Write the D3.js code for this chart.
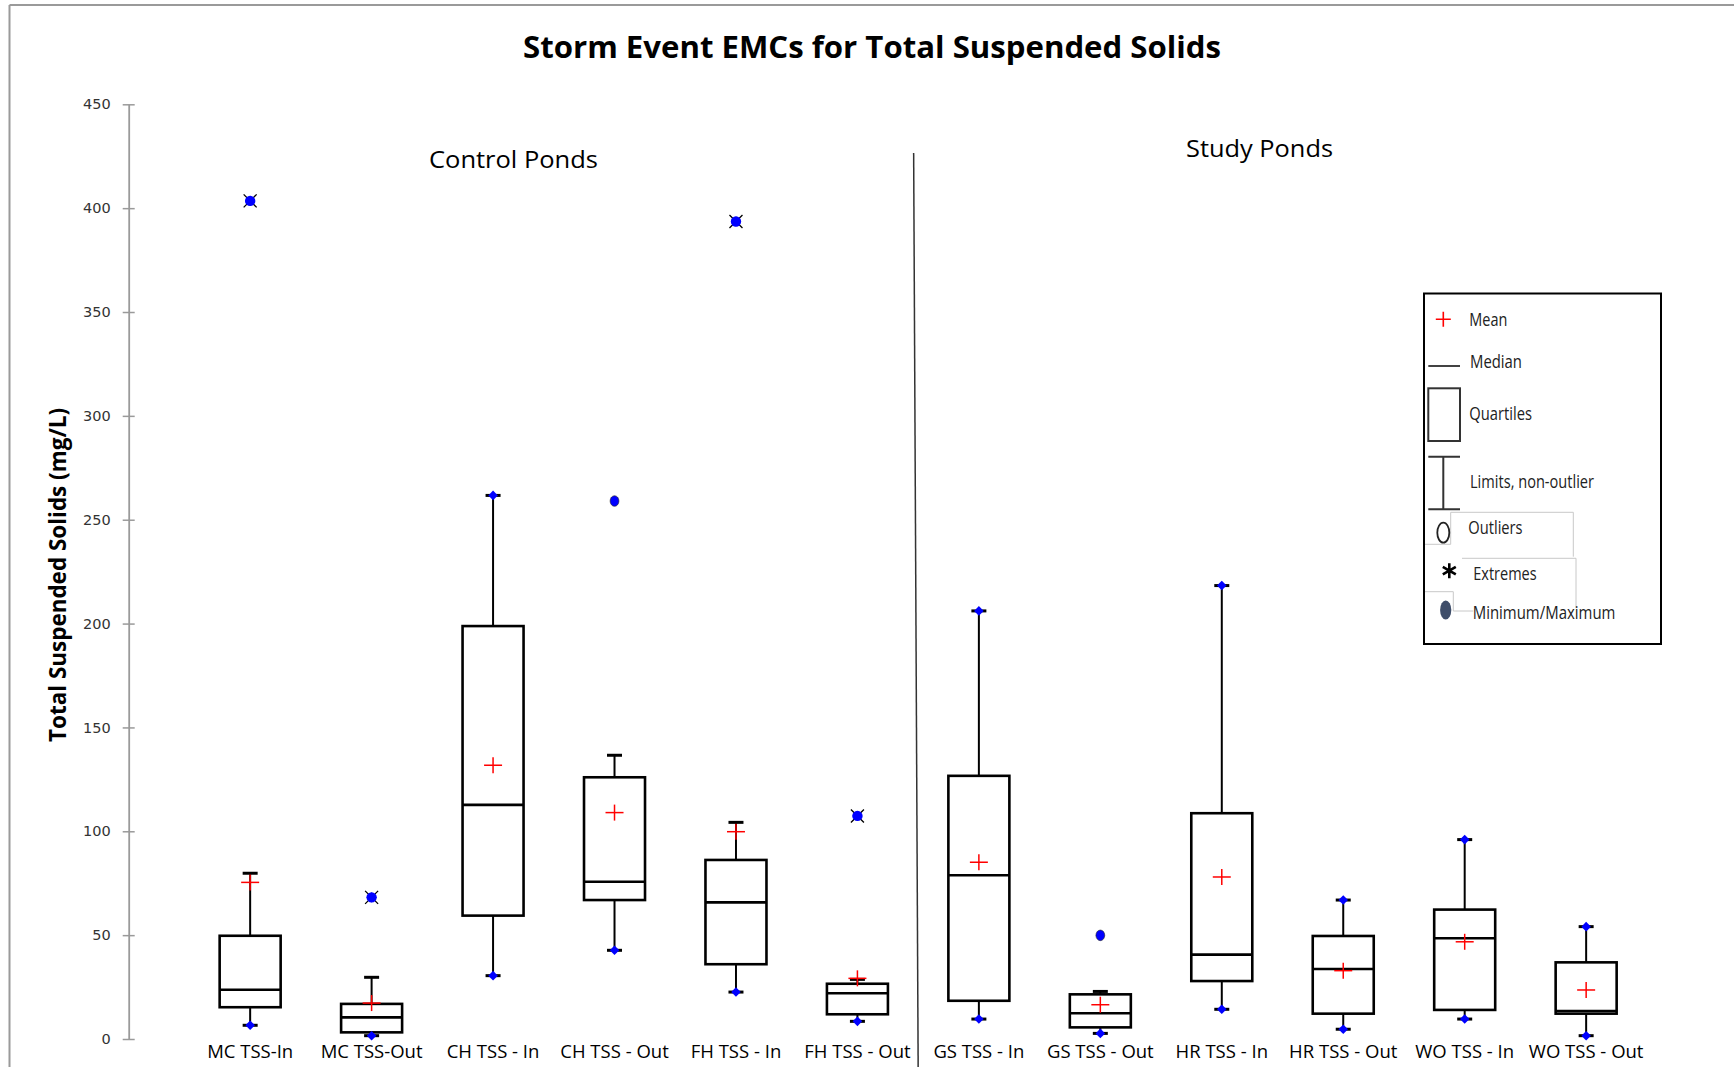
<!DOCTYPE html>
<html>
<head>
<meta charset="utf-8">
<script src="https://cdn.jsdelivr.net/npm/d3@7"></script>
<style>
  html, body { margin: 0; padding: 0; background: #fff; }
  svg { display: block; }
</style>
</head>
<body>
<svg id="chart" width="1734" height="1067"></svg>
<script>
// ---- Storm event EMC summaries for Total Suspended Solids (mg/L) ----
const categories = ["MC TSS-In", "MC TSS-Out", "CH TSS - In", "CH TSS - Out", "FH TSS - In", "FH TSS - Out",
                    "GS TSS - In", "GS TSS - Out", "HR TSS - In", "HR TSS - Out", "WO TSS - In", "WO TSS - Out"];
const minimum    = [6.6, 1.6, 30.5, 42.7, 22.6, 8.5, 9.6, 2.7, 14.3, 4.7, 9.6, 1.6];
const quartile1  = [15.3, 3.2, 59.4, 66.9, 36.0, 11.9, 18.4, 5.6, 27.9, 12.2, 14.0, 12.2];
const median     = [23.7, 10.4, 112.7, 75.7, 65.8, 22.0, 78.8, 12.4, 40.6, 33.7, 48.5, 13.5];
const quartile3  = [49.7, 16.9, 198.8, 126.0, 86.2, 26.6, 126.7, 21.5, 108.7, 49.6, 62.3, 36.9];
const upperLimit = [79.8, 29.7, 261.7, 136.6, 104.3, 28.7, 206.1, 22.9, 218.3, 66.9, 96.0, 54.1];
const mean       = [75.4, 17.3, 131.8, 109.0, 99.8, 29.2, 85.1, 16.5, 78.0, 32.9, 46.8, 23.6];

// points beyond the non-outlier limits (these are the maxima)
const extremeCats = ["MC TSS-In", "MC TSS-Out", "FH TSS - In", "FH TSS - Out"];
const extremeVals = [403.5, 68.2, 393.6, 107.4];
const outlierCats = ["CH TSS - Out", "GS TSS - Out"];
const outlierVals = [259.0, 49.9];

const yTicks = [0, 50, 100, 150, 200, 250, 300, 350, 400, 450];
const groupLabels = ["Control Ponds", "Study Ponds"];
const legendLabels = ["Mean", "Median", "Quartiles", "Limits, non-outlier", "Outliers", "Extremes", "Minimum/Maximum"];
const chartTitle = "Storm Event EMCs for Total Suspended Solids";
const yTitle = "Total Suspended Solids (mg/L)";

// ---- layout ----
const svg = d3.select("#chart");
const FONT = "'Open Sans', 'Noto Sans', sans-serif";

const x = d3.scalePoint().domain(categories).range([128.7, 1707.6]).padding(1);
const y = d3.scaleLinear().domain([0, 450]).range([1039, 104.3]);

const boxW = 61, capW = 15;

// page frame
svg.append("line").attr("x1", 9.5).attr("x2", 1734).attr("y1", 5).attr("y2", 5)
  .attr("stroke", "#9a9a9a").attr("stroke-width", 2);
svg.append("line").attr("x1", 9.5).attr("x2", 9.5).attr("y1", 5).attr("y2", 1067)
  .attr("stroke", "#9a9a9a").attr("stroke-width", 2);

// title
svg.append("text").attr("x", 872).attr("y", 58).attr("text-anchor", "middle")
  .attr("font-family", FONT).attr("font-weight", 700).attr("font-size", 30)
  .attr("textLength", 698).attr("lengthAdjust", "spacingAndGlyphs")
  .text(chartTitle);

// y axis
const yAxis = svg.append("g").attr("transform", "translate(128.7,0)")
  .call(d3.axisLeft(y).tickValues(yTicks).tickSize(6).tickSizeOuter(0).tickPadding(12));
yAxis.select(".domain").attr("stroke", "#9a9a9a").attr("stroke-width", 1.8);
yAxis.selectAll(".tick line").attr("x1", 6).attr("stroke", "#9a9a9a").attr("stroke-width", 1.5);
yAxis.selectAll(".tick text").attr("font-family", "'DejaVu Sans', Verdana, sans-serif")
  .attr("font-size", 14.5).attr("fill", "#333");

svg.append("text")
  .attr("transform", "translate(66,575) rotate(-90)")
  .attr("text-anchor", "middle").attr("font-family", FONT).attr("font-weight", 700)
  .attr("font-size", 23).attr("textLength", 334).attr("lengthAdjust", "spacingAndGlyphs")
  .text(yTitle);

// divider between control and study ponds
const divX = (x(categories[5]) + x(categories[6])) / 2;
svg.append("line").attr("x1", divX - 4.5).attr("y1", 153).attr("x2", divX).attr("y2", 1067)
  .attr("stroke", "#333").attr("stroke-width", 1.5);

// group headings
const groupPos = [{ cx: 513.5, by: 168, w: 169 }, { cx: 1259.5, by: 157, w: 147 }];
svg.selectAll("text.group").data(groupLabels).join("text").attr("class", "group")
  .attr("x", (d, i) => groupPos[i].cx).attr("y", (d, i) => groupPos[i].by)
  .attr("text-anchor", "middle").attr("font-family", FONT).attr("font-size", 24.5)
  .attr("textLength", (d, i) => groupPos[i].w).attr("lengthAdjust", "spacingAndGlyphs")
  .text(d => d);

// category labels
svg.selectAll("text.cat").data(categories).join("text").attr("class", "cat")
  .attr("x", d => x(d)).attr("y", 1058).attr("text-anchor", "middle")
  .attr("font-family", FONT).attr("font-size", 18.5).attr("fill", "#000")
  .text(d => d);

// ---- box plots ----
const rows = categories.map((c, i) => ({
  cat: c, min: minimum[i], q1: quartile1[i], med: median[i], q3: quartile3[i],
  upper: upperLimit[i], mean: mean[i],
  hasHigh: extremeCats.includes(c) || outlierCats.includes(c)
}));

const g = svg.append("g");
const box = g.selectAll("g.box").data(rows).join("g").attr("class", "box")
  .attr("transform", d => `translate(${x(d.cat)},0)`);

// whiskers
box.append("line").attr("x1", 0).attr("x2", 0).attr("y1", d => y(d.q3)).attr("y2", d => y(d.upper))
  .attr("stroke", "#000").attr("stroke-width", 2);
box.append("line").attr("x1", 0).attr("x2", 0).attr("y1", d => y(d.q1)).attr("y2", d => y(d.min))
  .attr("stroke", "#000").attr("stroke-width", 2);
// caps
box.append("line").attr("x1", -capW / 2).attr("x2", capW / 2).attr("y1", d => y(d.upper)).attr("y2", d => y(d.upper))
  .attr("stroke", "#000").attr("stroke-width", 3);
box.append("line").attr("x1", -capW / 2).attr("x2", capW / 2).attr("y1", d => y(d.min)).attr("y2", d => y(d.min))
  .attr("stroke", "#000").attr("stroke-width", 3);
// quartile box
box.append("rect").attr("x", -boxW / 2).attr("width", boxW)
  .attr("y", d => y(d.q3)).attr("height", d => y(d.q1) - y(d.q3))
  .attr("fill", "#fff").attr("stroke", "#000").attr("stroke-width", 2.6);
// median
box.append("line").attr("x1", -boxW / 2).attr("x2", boxW / 2).attr("y1", d => y(d.med)).attr("y2", d => y(d.med))
  .attr("stroke", "#000").attr("stroke-width", 2.6);

// min / max markers
const diamond = d3.symbol(d3.symbolSquare, 46)();
box.append("path").attr("d", diamond).attr("fill", "#0000ff")
  .attr("transform", d => `translate(0,${y(d.min)}) rotate(45)`);
box.filter(d => !d.hasHigh).append("path").attr("d", diamond).attr("fill", "#0000ff")
  .attr("transform", d => `translate(0,${y(d.upper)}) rotate(45)`);

// mean
box.append("line").attr("x1", -9).attr("x2", 9).attr("y1", d => y(d.mean)).attr("y2", d => y(d.mean))
  .attr("stroke", "#ff0000").attr("stroke-width", 1.5);
box.append("line").attr("x1", 0).attr("x2", 0).attr("y1", d => y(d.mean) - 8).attr("y2", d => y(d.mean) + 8)
  .attr("stroke", "#ff0000").attr("stroke-width", 1.5);

// extremes
const ext = g.selectAll("g.ext").data(extremeCats.map((c, i) => ({ cat: c, v: extremeVals[i] })))
  .join("g").attr("class", "ext").attr("transform", d => `translate(${x(d.cat)},${y(d.v)})`);
ext.append("path").attr("d", "M-6.5,-6.5L6.5,6.5M6.5,-6.5L-6.5,6.5")
  .attr("stroke", "#000").attr("stroke-width", 1.3);
ext.append("circle").attr("r", 5.2).attr("fill", "#0000ff");
ext.append("path").attr("d", diamond).attr("fill", "#0000ff").attr("transform", "rotate(45) scale(1.05)");

// outliers
g.selectAll("ellipse.out").data(outlierCats.map((c, i) => ({ cat: c, v: outlierVals[i] })))
  .join("ellipse").attr("class", "out")
  .attr("cx", d => x(d.cat)).attr("cy", d => y(d.v)).attr("rx", 4.4).attr("ry", 5.3)
  .attr("fill", "#0000ff").attr("stroke", "#222").attr("stroke-width", 0.6);

// ---- legend ----
const lg = svg.append("g");
lg.append("rect").attr("x", 1424).attr("y", 293.5).attr("width", 237).attr("height", 350.5)
  .attr("fill", "#fff").attr("stroke", "#000").attr("stroke-width", 2);

// faint text-box outlines around the lower entries
lg.append("path")
  .attr("d", "M1425,544.3H1450.7V512.3H1573.3V556.7" +
             "M1462,558.3H1576V608.3" +
             "M1425,591.7H1453.3V611H1473.3")
  .attr("fill", "none").attr("stroke", "#c8c8c8").attr("stroke-width", 1);

// symbols
lg.append("path").attr("d", "M1435.8,319.3H1450.8M1443.3,311.8V326.8")
  .attr("stroke", "#ff0000").attr("stroke-width", 1.6);
lg.append("line").attr("x1", 1428.3).attr("x2", 1460).attr("y1", 366).attr("y2", 366)
  .attr("stroke", "#222").attr("stroke-width", 1.7);
lg.append("rect").attr("x", 1428.3).attr("y", 388.3).attr("width", 31.7).attr("height", 52.7)
  .attr("fill", "none").attr("stroke", "#333").attr("stroke-width", 2);
lg.append("path").attr("d", "M1428.3,456.7H1460M1428.3,509.3H1460M1443.3,456.7V509.3")
  .attr("stroke", "#333").attr("stroke-width", 2);
lg.append("ellipse").attr("cx", 1443.3).attr("cy", 532.7).attr("rx", 6).attr("ry", 10)
  .attr("fill", "#fff").attr("stroke", "#222").attr("stroke-width", 1.8);
lg.append("path")
  .attr("d", "M1449.3,563.2V578.2M1442.8,566.95L1455.8,574.45M1442.8,574.45L1455.8,566.95")
  .attr("stroke", "#000").attr("stroke-width", 2.6);
lg.append("ellipse").attr("cx", 1445.7).attr("cy", 610).attr("rx", 5.6).attr("ry", 9.6)
  .attr("fill", "#3f4e6a");

// labels
const legendPos = [
  { x: 1469.3, cy: 319.3, w: 38 },
  { x: 1470.0, cy: 360.7, w: 52 },
  { x: 1469.3, cy: 413.3, w: 62.7 },
  { x: 1470.0, cy: 481.0, w: 124 },
  { x: 1468.3, cy: 526.7, w: 54.3 },
  { x: 1473.3, cy: 572.7, w: 63.3 },
  { x: 1472.7, cy: 611.7, w: 142.7 }
];
lg.selectAll("text").data(legendLabels).join("text")
  .attr("x", (d, i) => legendPos[i].x).attr("y", (d, i) => legendPos[i].cy).attr("dy", "0.36em")
  .attr("font-family", FONT).attr("font-size", 19).attr("fill", "#222")
  .attr("textLength", (d, i) => legendPos[i].w).attr("lengthAdjust", "spacingAndGlyphs")
  .text(d => d);
</script>
</body>
</html>
